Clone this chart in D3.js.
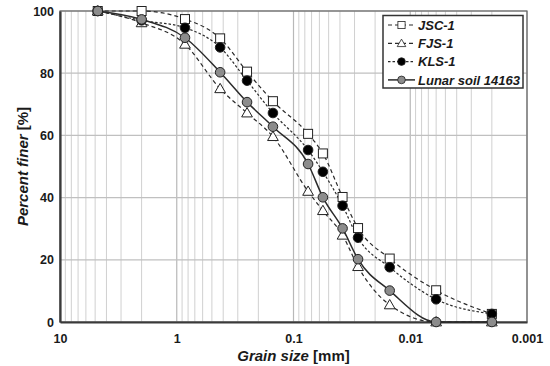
<!DOCTYPE html>
<html><head><meta charset="utf-8">
<script src="https://cdn.jsdelivr.net/npm/d3@7"></script>
<style>body{margin:0;background:#fff}svg{display:block}text{font-family:"Liberation Sans",Arial,sans-serif}</style>
</head><body><svg id="c" width="550" height="366"></svg>
<script>
// grain sizes [mm]
const sizes = [4.75, 2, 0.85, 0.425, 0.25, 0.15, 0.075, 0.056, 0.038, 0.028, 0.015, 0.006, 0.002];
const jsc1 = [100, 100, 97.4, 91.2, 80.5, 71.0, 60.5, 54.2, 40.2, 30.2, 20.4, 10.2, 2.6];
const fjs1 = [100, 96.2, 89.3, 75.0, 67.2, 59.6, 42.0, 35.8, 27.9, 17.8, 5.5, 0, 0];
const kls1 = [100, 97.0, 94.6, 88.3, 77.6, 67.2, 55.3, 48.3, 37.4, 27.1, 17.6, 7.3, 2.6];
const lunar = [100, 97.3, 91.4, 80.3, 70.7, 62.8, 50.8, 40.1, 30.1, 20.2, 10.1, 0, 0];
const xTickValues = [10, 1, 0.1, 0.01, 0.001];
const xTickLabels = ["10", "1", "0.1", "0.01", "0.001"];
const yTickValues = [0, 20, 40, 60, 80, 100];
const seriesNames = ["JSC-1", "FJS-1", "KLS-1", "Lunar soil 14163"];

const svg = d3.select("#c");
const L = 60, R = 527, T = 11, B = 322;
const x = d3.scaleLog().domain([10, 0.001]).range([L, R]);
const y = d3.scaleLinear().domain([0, 100]).range([B, T]);

// grid
const g = svg.append("g");
const minor = [];
for (let e = -3; e < 1; e++) for (let k = 2; k <= 9; k++) minor.push(k * Math.pow(10, e));
g.selectAll(".vm").data(minor).enter().append("line")
  .attr("x1", d => x(d)).attr("x2", d => x(d)).attr("y1", T).attr("y2", B)
  .attr("stroke", "#d0d0d0").attr("stroke-width", 1);
g.selectAll(".vM").data(xTickValues).enter().append("line")
  .attr("x1", d => x(d)).attr("x2", d => x(d)).attr("y1", T).attr("y2", B)
  .attr("stroke", "#b8b8b8").attr("stroke-width", 1.2);
g.selectAll(".h").data(yTickValues).enter().append("line")
  .attr("x1", L).attr("x2", R).attr("y1", d => y(d)).attr("y2", d => y(d))
  .attr("stroke", "#c0c0c0").attr("stroke-width", 1.2);

// border
svg.append("rect").attr("x", L).attr("y", T).attr("width", R - L).attr("height", B - T)
  .attr("fill", "none").attr("stroke", "#666").attr("stroke-width", 1.2);

// axes via d3
const xAxis = d3.axisBottom(x).tickValues(xTickValues).tickFormat((d, i) => xTickLabels[i]).tickSize(0).tickPadding(12);
const yAxis = d3.axisLeft(y).tickValues(yTickValues).tickSize(0).tickPadding(6);
const gx = svg.append("g").attr("transform", `translate(0,${B})`).call(xAxis);
const gy = svg.append("g").attr("transform", `translate(${L},0)`).call(yAxis);
[gx, gy].forEach(a => {
  a.select(".domain").attr("stroke", "#3a3a3a").attr("stroke-width", 2.2);
  a.selectAll("text").attr("font-size", "12.5px").attr("font-weight", "bold").attr("fill", "#1a1a1a")
    .style("font-family", '"Liberation Sans",Arial,sans-serif');
});

// titles
const xt = svg.append("text").attr("x", (L + R) / 2).attr("y", 360.5).attr("text-anchor", "middle")
  .attr("font-size", "15px").attr("font-weight", "bold").attr("fill", "#1a1a1a");
xt.append("tspan").attr("font-style", "italic").text("Grain size ");
xt.append("tspan").text("[mm]");
const yt = svg.append("text").attr("transform", `translate(28,${(T + B) / 2}) rotate(-90)`).attr("text-anchor", "middle")
  .attr("font-size", "15px").attr("font-weight", "bold").attr("fill", "#1a1a1a");
yt.append("tspan").attr("font-style", "italic").text("Percent finer ");
yt.append("tspan").text("[%]");

// series
const series = [
  {name: seriesNames[0], vals: jsc1, dash: "4,3", marker: "square", fill: "#fff", lw: 1.2},
  {name: seriesNames[1], vals: fjs1, dash: "4,3", marker: "triangle", fill: "#fff", lw: 1.2},
  {name: seriesNames[2], vals: kls1, dash: "2.5,2", marker: "circle", fill: "#000", lw: 1.2},
  {name: seriesNames[3], vals: lunar, dash: null, marker: "circle", fill: "#8c8c8c", lw: 1.5}
];
const line = d3.line().x(d => x(d[0])).y(d => y(d[1])).curve(d3.curveMonotoneX);
function drawMarker(sel, m, fill) {
  if (m === "circle") sel.append("circle").attr("r", 4.8).attr("fill", fill).attr("stroke", "#222").attr("stroke-width", 1);
  else if (m === "square") sel.append("rect").attr("x", -4.5).attr("y", -4.5).attr("width", 9).attr("height", 9).attr("fill", fill).attr("stroke", "#222").attr("stroke-width", 1);
  else sel.append("path").attr("d", d3.symbol(d3.symbolTriangle, 50)()).attr("transform", "translate(0,0.8)").attr("fill", fill).attr("stroke", "#222").attr("stroke-width", 1);
}
series.forEach(s => {
  const pts = sizes.map((d, i) => [d, s.vals[i]]);
  svg.append("path").attr("d", line(pts)).attr("fill", "none").attr("stroke", "#2a2a2a")
    .attr("stroke-width", s.lw).attr("stroke-dasharray", s.dash);
});
series.forEach(s => {
  const pts = sizes.map((d, i) => [d, s.vals[i]]);
  svg.append("g").selectAll("g").data(pts).enter().append("g")
    .attr("transform", d => `translate(${x(d[0])},${y(d[1])})`)
    .each(function () { drawMarker(d3.select(this), s.marker, s.fill); });
});

// legend
const lg = svg.append("g");
lg.append("rect").attr("x", 383).attr("y", 15.5).attr("width", 140).attr("height", 72.5)
  .attr("fill", "#fff").attr("stroke", "#333").attr("stroke-width", 1.5);
series.forEach((s, i) => {
  const yy = 25 + i * 18.3;
  const row = lg.append("g").attr("transform", `translate(0,${yy})`);
  row.append("line").attr("x1", 388).attr("x2", 415).attr("y1", 0).attr("y2", 0)
    .attr("stroke", "#2a2a2a").attr("stroke-width", s.lw).attr("stroke-dasharray", s.dash);
  const mk = row.append("g").attr("transform", "translate(401.5,0)");
  drawMarker(mk, s.marker, s.fill);
  mk.selectAll("*").attr("transform", function () { return (d3.select(this).attr("transform") || "") + " scale(0.8)"; });
  row.append("text").attr("x", 418).attr("y", 0).attr("dy", "0.36em").attr("font-size", "13px")
    .attr("font-weight", "bold").attr("font-style", "italic").attr("fill", "#1a1a1a").text(s.name);
});
</script></body></html>
